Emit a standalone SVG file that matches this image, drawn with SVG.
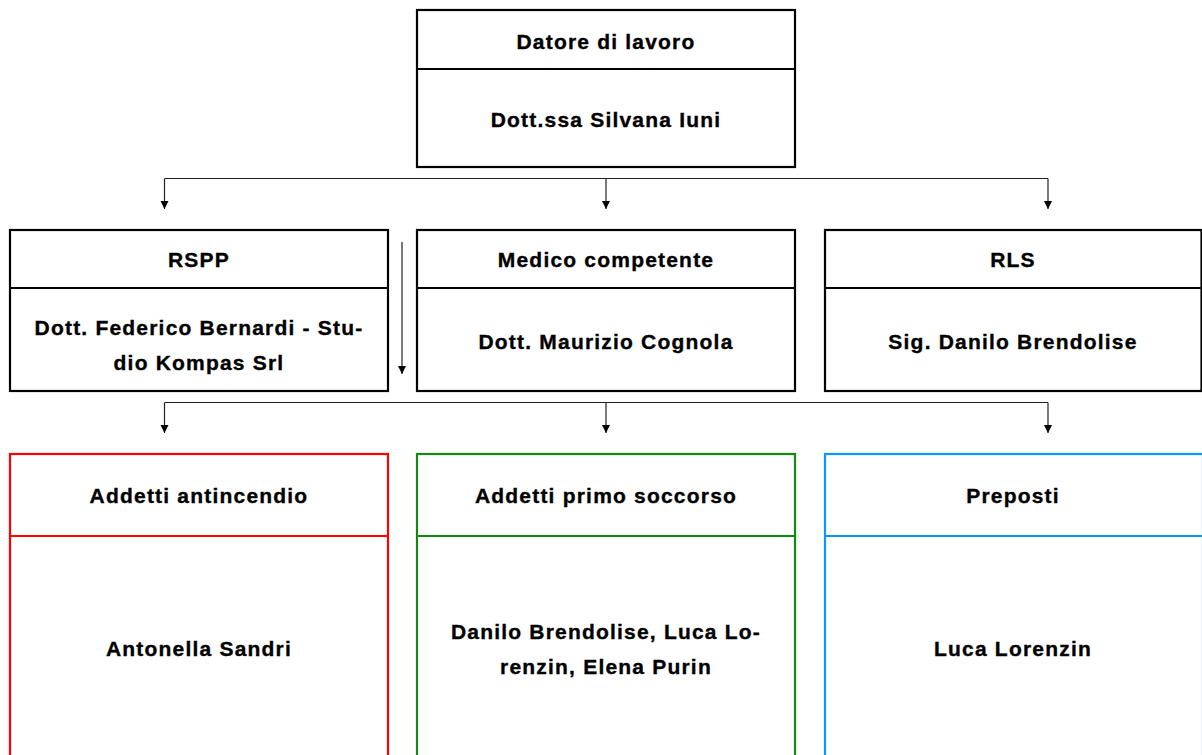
<svg xmlns="http://www.w3.org/2000/svg" width="1202" height="755" viewBox="0 0 1202 755">
<style>
  .box { fill: #ffffff; stroke-width: 2.2; }
  .blk { stroke: #000000; }
  .red { stroke: #ff0000; }
  .grn { stroke: #128a12; }
  .blu { stroke: #0a96ff; }
  .t { font-family: "Liberation Sans", Arial, sans-serif; font-weight: bold; font-size: 21px; letter-spacing: 1.2px; text-anchor: middle; fill: #000000; stroke: #000000; stroke-width: 0.35px; }
  .conn { stroke: #222222; stroke-width: 1.2; fill: none; }
</style>
<defs>
  <marker id="arr" markerUnits="userSpaceOnUse" markerWidth="10" markerHeight="10" refX="9" refY="5" orient="auto">
    <path d="M1,1 L9,5 L1,9 z" fill="#000000"/>
  </marker>
</defs>
<rect width="1202" height="755" fill="#ffffff"/>

<g id="connectors">
  <path class="conn" d="M164.5,178.5 H1048"/>
  <path class="conn" d="M164.5,178.5 V209" marker-end="url(#arr)"/>
  <path class="conn" d="M606,178.5 V209" marker-end="url(#arr)"/>
  <path class="conn" d="M1048,178.5 V209" marker-end="url(#arr)"/>
  <path class="conn" d="M402,242 V374" marker-end="url(#arr)"/>
  <path class="conn" d="M164.5,402.5 H1048"/>
  <path class="conn" d="M164.5,402.5 V433" marker-end="url(#arr)"/>
  <path class="conn" d="M606,402.5 V433" marker-end="url(#arr)"/>
  <path class="conn" d="M1048,402.5 V433" marker-end="url(#arr)"/>
</g>

<g id="datore">
  <rect class="box blk" x="417" y="10" width="378" height="157"/>
  <line class="blk" x1="417" y1="69" x2="795" y2="69" stroke-width="2.2"/>
  <text class="t" x="606" y="48.5">Datore di lavoro</text>
  <text class="t" x="606" y="126.5">Dott.ssa Silvana Iuni</text>
</g>

<g id="rspp">
  <rect class="box blk" x="10" y="230" width="378" height="161"/>
  <line class="blk" x1="10" y1="288" x2="388" y2="288" stroke-width="2.2"/>
  <text class="t" x="199" y="266.5">RSPP</text>
  <text class="t" x="199" y="334.5">Dott. Federico Bernardi - Stu-</text>
  <text class="t" x="199" y="369.5">dio Kompas Srl</text>
</g>

<g id="medico">
  <rect class="box blk" x="417" y="230" width="378" height="161"/>
  <line class="blk" x1="417" y1="288" x2="795" y2="288" stroke-width="2.2"/>
  <text class="t" x="606" y="266.5">Medico competente</text>
  <text class="t" x="606" y="348.5">Dott. Maurizio Cognola</text>
</g>

<g id="rls">
  <rect class="box blk" x="825" y="230" width="376.5" height="161"/>
  <line class="blk" x1="825" y1="288" x2="1201.5" y2="288" stroke-width="2.2"/>
  <text class="t" x="1013" y="266.5">RLS</text>
  <text class="t" x="1013" y="348.5">Sig. Danilo Brendolise</text>
</g>

<g id="antincendio">
  <rect class="box red" x="10" y="454" width="378" height="310"/>
  <line class="red" x1="10" y1="536" x2="388" y2="536" stroke-width="2.2"/>
  <text class="t" x="199" y="502.5">Addetti antincendio</text>
  <text class="t" x="199" y="655.5">Antonella Sandri</text>
</g>

<g id="soccorso">
  <rect class="box grn" x="417" y="454" width="378" height="310"/>
  <line class="grn" x1="417" y1="536" x2="795" y2="536" stroke-width="2.2"/>
  <text class="t" x="606" y="502.5">Addetti primo soccorso</text>
  <text class="t" x="606" y="638.5">Danilo Brendolise, Luca Lo-</text>
  <text class="t" x="606" y="673.5">renzin, Elena Purin</text>
</g>

<g id="preposti">
  <rect class="box blu" x="825" y="454" width="378" height="310"/>
  <line class="blu" x1="825" y1="536" x2="1203" y2="536" stroke-width="2.2"/>
  <text class="t" x="1013" y="502.5">Preposti</text>
  <text class="t" x="1013" y="655.5">Luca Lorenzin</text>
</g>
</svg>
